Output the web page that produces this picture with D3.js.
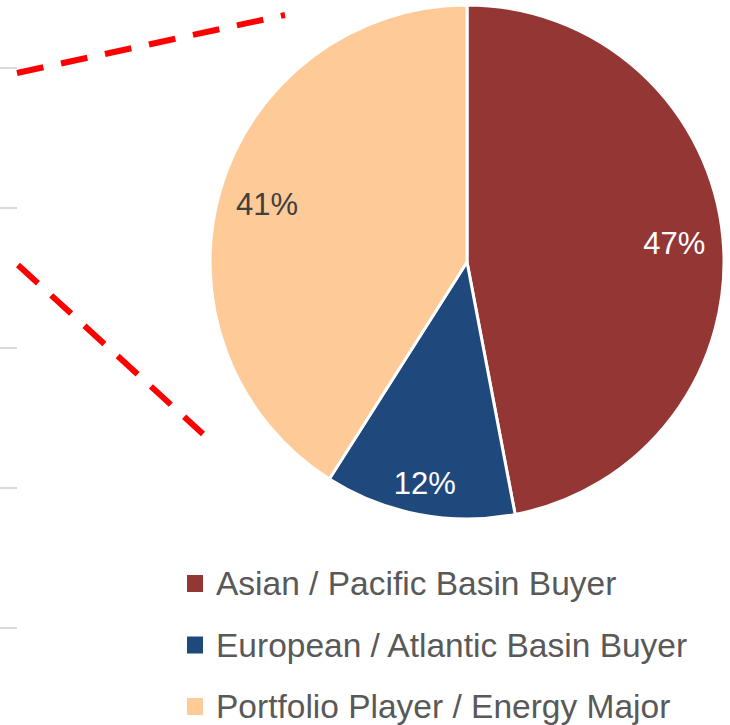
<!DOCTYPE html>
<html>
<head>
<meta charset="utf-8">
<script src="https://cdn.jsdelivr.net/npm/d3@7"></script>
<style>
  body { margin: 0; background: #fff; }
  svg { display: block; }
</style>
</head>
<body>
<script>
// Data
var categories = ["Asian / Pacific Basin Buyer", "European / Atlantic Basin Buyer", "Portfolio Player / Energy Major"],
    shares = [47, 12, 41],
    sliceColors = ["#943634", "#1f497d", "#fecb98"],
    labelColors = ["#ffffff", "#ffffff", "#404040"];

// leftover gridlines of the neighbouring (cropped) chart
var gridValues = [0, 1, 2, 3, 4];

var width = 730,
    height = 725,
    cx = 467,
    cy = 262,
    radius = 257;

var svg = d3.select("body").append("svg")
    .attr("width", width)
    .attr("height", height);

// gray tick stubs at left edge
var gy = d3.scaleLinear().domain([0, 4]).range([68, 628]);
svg.append("g")
    .selectAll("line")
    .data(gridValues)
    .enter().append("line")
    .attr("x1", 0)
    .attr("x2", 17)
    .attr("y1", function (d) { return gy(d); })
    .attr("y2", function (d) { return gy(d); })
    .attr("stroke", "#d9d9d9")
    .attr("stroke-width", 2);

// red dashed zoom lines
var zoomLines = [[[17, 73], [285, 15]], [[18, 265], [203, 434]]];
svg.append("g")
    .selectAll("line")
    .data(zoomLines)
    .enter().append("line")
    .attr("x1", function (d) { return d[0][0]; })
    .attr("y1", function (d) { return d[0][1]; })
    .attr("x2", function (d) { return d[1][0]; })
    .attr("y2", function (d) { return d[1][1]; })
    .attr("stroke", "#ff0000")
    .attr("stroke-width", 6)
    .attr("stroke-dasharray", "27,18");

// pie
var pie = d3.pie().sort(null).value(function (d) { return d; });
var arc = d3.arc().innerRadius(0).outerRadius(radius);
var arcs = pie(shares);

var g = svg.append("g")
    .attr("transform", "translate(" + cx + "," + cy + ")");

g.selectAll("path")
    .data(arcs)
    .enter().append("path")
    .attr("d", arc)
    .attr("fill", function (d, i) { return sliceColors[i]; })
    .attr("stroke", "#fff")
    .attr("stroke-width", 3)
    .attr("stroke-linejoin", "round");

g.selectAll("text")
    .data(arcs)
    .enter().append("text")
    .attr("transform", function (d) {
        var r = d.value < 20 ? radius * 0.875 : radius * 0.81;
        var la = d3.arc().innerRadius(r).outerRadius(r);
        return "translate(" + la.centroid(d) + ")";
    })
    .attr("text-anchor", "middle")
    .attr("dy", "0.36em")
    .attr("font-family", "'Liberation Sans', Arial, sans-serif")
    .attr("font-size", 31)
    .attr("fill", function (d, i) { return labelColors[i]; })
    .text(function (d) { return d.value + "%"; });

// legend
var legend = svg.append("g")
    .attr("transform", "translate(187,0)");

var ly = d3.scalePoint().domain(categories).range([583, 706]);

var item = legend.selectAll("g")
    .data(categories)
    .enter().append("g")
    .attr("transform", function (d) { return "translate(0," + ly(d) + ")"; });

item.append("rect")
    .attr("x", 0)
    .attr("y", -8)
    .attr("width", 16)
    .attr("height", 17)
    .attr("fill", function (d, i) { return sliceColors[i]; });

item.append("text")
    .attr("x", 29)
    .attr("y", 0)
    .attr("dy", "0.36em")
    .attr("font-family", "'Liberation Sans', Arial, sans-serif")
    .attr("font-size", 33.5)
    .attr("fill", "#595959")
    .text(function (d) { return d; });
</script>
</body>
</html>
